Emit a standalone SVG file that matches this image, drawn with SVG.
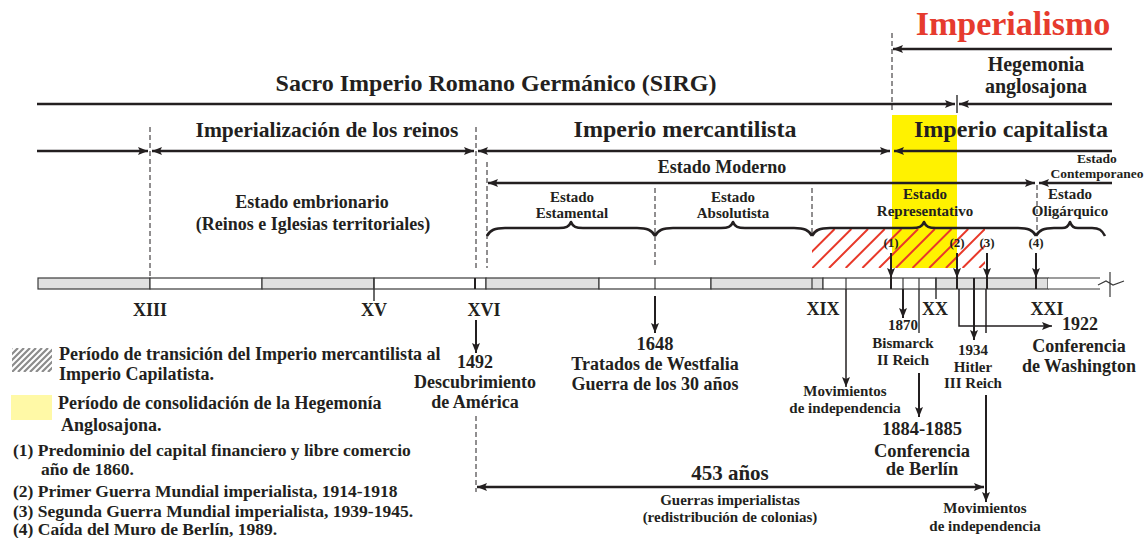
<svg xmlns="http://www.w3.org/2000/svg" width="1147" height="538" viewBox="0 0 1147 538">
<style>
text{font-family:"Liberation Serif","Times New Roman",serif;font-weight:bold;fill:#231f20;text-anchor:middle}
.l{text-anchor:start}
.arr{stroke:#231f20;stroke-width:2.5;fill:none}
.ar2{stroke:#231f20;stroke-width:2;fill:none}
.dash{stroke:#231f20;stroke-width:1;stroke-dasharray:5,3;fill:none}
.tk{stroke:#3a3a3a;stroke-width:1.2;fill:none}
.tkb{stroke:#231f20;stroke-width:2;fill:none}
.brace{stroke:#231f20;stroke-width:2.6;fill:none;stroke-linejoin:round}
.seg{stroke:#3a3a3a;stroke-width:1.2}
.g{fill:#e0e0e0}
.w{fill:#ffffff}
.hat{stroke:#e8392a;stroke-width:2;fill:none}
</style>
<defs>
<marker id="ah" viewBox="0 0 10 8" refX="10" refY="4" markerWidth="10" markerHeight="8" markerUnits="userSpaceOnUse" orient="auto-start-reverse">
<path d="M0,0 L10,4 L0,8 L2,4 z" fill="#231f20"/>
</marker>
<clipPath id="hc"><rect x="812" y="229" width="173" height="39"/></clipPath>
<clipPath id="lc"><rect x="12" y="348" width="40" height="24"/></clipPath>
</defs>
<rect width="1147" height="538" fill="#ffffff"/>

<g id="yellow-band"><rect x="892" y="115" width="65" height="153" fill="#fff200"/></g>
<g id="hatch-band" clip-path="url(#hc)">
<path class="hat" d="M778.9,268 L817.9,229 M795.6,268 L834.6,229 M812.3,268 L851.3,229 M829,268 L868,229 M845.7,268 L884.7,229 M862.4,268 L901.4,229 M879.1,268 L918.1,229 M895.8,268 L934.8,229 M912.5,268 L951.5,229 M929.2,268 L968.2,229 M945.9,268 L984.9,229 M962.6,268 L1001.6,229 M979.3,268 L1018.3,229"/>
</g>

<g id="titles">
<text x="1013" y="35" font-size="34" style="fill:#e63b2e">Imperialismo</text>
<text x="1036" y="71" font-size="20">Hegemonia</text>
<text x="1036" y="93" font-size="20">anglosajona</text>
<text x="496" y="91" font-size="24">Sacro Imperio Romano Germánico (SIRG)</text>
<text x="327" y="137" font-size="21.5">Imperialización de los reinos</text>
<text x="685" y="137" font-size="24">Imperio mercantilista</text>
<text x="1011" y="137" font-size="24">Imperio capitalista</text>
<text x="722" y="173" font-size="18">Estado Moderno</text>
<text x="1097" y="163" font-size="13.5">Estado</text>
<text x="1097" y="178" font-size="13.5">Contemporaneo</text>
</g>

<g id="states">
<text x="312" y="208" font-size="18">Estado embrionario</text>
<text x="313" y="230" font-size="18">(Reinos e Iglesias territoriales)</text>
<text x="572" y="202" font-size="15">Estado</text>
<text x="572" y="218" font-size="15">Estamental</text>
<text x="733" y="202" font-size="15">Estado</text>
<text x="733" y="218" font-size="15">Absolutista</text>
<text x="925" y="199" font-size="15">Estado</text>
<text x="925" y="216" font-size="15">Representativo</text>
<text x="1070" y="199" font-size="15">Estado</text>
<text x="1070" y="216" font-size="15">Oligárquico</text>
<path class="brace" d="M487,236 C490,230 495,228 505,228 L559,228 C566,228 569,227 571,222 C573,227 576,228 583,228 L637,228 C647,228 652,230 655,236"/>
<path class="brace" d="M655,236 C658,230 663,228 673,228 L721,228 C728,228 731,227 733,222 C735,227 738,228 745,228 L794,228 C804,228 809,230 812,236"/>
<path class="brace" d="M812,236 C815,230 820,228 830,228 L912,228 C919,228 922,227 924,222 C926,227 929,228 936,228 L1018,228 C1028,228 1033,230 1036,236"/>
<path class="brace" d="M1036,236 C1039,230 1044,228 1054,228 L1062,228 C1066,228 1068,227 1070,222 C1072,227 1074,228 1078,228 L1092,228 C1099,228 1102,230 1105,236"/>
<text x="891" y="247" font-size="13">(1)</text>
<text x="957" y="247" font-size="13">(2)</text>
<text x="987" y="247" font-size="13">(3)</text>
<text x="1036" y="247" font-size="13">(4)</text>
</g>

<g id="timeline-bar">
<rect class="seg g" x="38" y="278" width="112" height="11"/>
<rect class="seg w" x="150" y="278" width="112" height="11"/>
<rect class="seg g" x="262" y="278" width="112" height="11"/>
<rect class="seg w" x="374" y="278" width="112" height="11"/>
<rect class="seg g" x="486" y="278" width="113" height="11"/>
<rect class="seg w" x="599" y="278" width="112" height="11"/>
<rect class="seg g" x="711" y="278" width="112" height="11"/>
<rect class="seg w" x="823" y="278" width="113" height="11"/>
<rect class="seg g" x="936" y="278" width="112" height="11"/>
<rect x="1048" y="278" width="52" height="11" fill="#ffffff"/>
<path class="tk" d="M1048,278 L1100,278 M1048,289 L1100,289 M1098,285 L1106,281 L1113,285 L1124,281 M1110,272 L1110,297"/>
<path class="tk" d="M655,278 V289 M812,278 V289 M846,278 V289 M903,278 V289 M919,278 V289 M374,278 V289 M936,278 V289"/>
<path class="tkb" d="M475,278 V289 M891,278 V289 M957,278 V289 M974,278 V289 M987,278 V289 M1036,278 V289"/>
<text x="150" y="316" font-size="18">XIII</text>
<text x="374" y="316" font-size="18">XV</text>
<text x="484" y="316" font-size="18">XVI</text>
<text x="823" y="315" font-size="18">XIX</text>
<text x="935" y="315" font-size="18">XX</text>
<text x="1047" y="315" font-size="18">XXI</text>
</g>

<g id="events">
<text x="475" y="368" font-size="18">1492</text>
<text x="475" y="388" font-size="18">Descubrimiento</text>
<text x="475" y="408" font-size="18">de América</text>
<text x="655" y="350" font-size="18.5">1648</text>
<text x="655" y="370" font-size="18">Tratados de Westfalia</text>
<text x="655" y="390" font-size="18">Guerra de los 30 años</text>
<text x="845" y="396" font-size="15">Movimientos</text>
<text x="845" y="413" font-size="15">de independencia</text>
<text x="903" y="330" font-size="15">1870</text>
<text x="903" y="348" font-size="15">Bismarck</text>
<text x="903" y="365" font-size="15">II Reich</text>
<text x="922" y="435" font-size="18.5">1884-1885</text>
<text x="922" y="457" font-size="18.5">Conferencia</text>
<text x="922" y="475" font-size="18.5">de Berlín</text>
<text x="973" y="355" font-size="15">1934</text>
<text x="973" y="372" font-size="15">Hitler</text>
<text x="973" y="388" font-size="15">III Reich</text>
<text x="1080" y="330" font-size="18">1922</text>
<text x="1079" y="352" font-size="18">Conferencia</text>
<text x="1079" y="372" font-size="18">de Washington</text>
<text x="985" y="513" font-size="15">Movimientos</text>
<text x="985" y="531" font-size="15">de independencia</text>
<text x="730" y="480" font-size="21">453 años</text>
<text x="730" y="505" font-size="15">Guerras imperialistas</text>
<text x="730" y="522" font-size="15">(redistribución de colonias)</text>
</g>

<g id="legend">
<g clip-path="url(#lc)"><path stroke="#8c8c8c" stroke-width="2.2" fill="none" d="M-12,372 L12,348 M-6,372 L18,348 M0,372 L24,348 M6,372 L30,348 M12,372 L36,348 M18,372 L42,348 M24,372 L48,348 M30,372 L54,348 M36,372 L60,348 M42,372 L66,348 M48,372 L72,348"/></g>
<text class="l" x="59" y="360" font-size="18">Período de transición del Imperio mercantilista al</text>
<text class="l" x="59" y="380" font-size="18">Imperio Capilatista.</text>
<rect x="11" y="395" width="41" height="25" fill="#fff9a6"/>
<text class="l" x="58" y="409" font-size="18">Período de consolidación de la Hegemonía</text>
<text class="l" x="61" y="431" font-size="18">Anglosajona.</text>
<text class="l" x="13" y="456" font-size="17.5">(1) Predominio del capital financiero y libre comercio</text>
<text class="l" x="41" y="474.5" font-size="17.5">año de 1860.</text>
<text class="l" x="13" y="497" font-size="17.5">(2) Primer Guerra Mundial imperialista, 1914-1918</text>
<text class="l" x="13" y="517" font-size="17.5">(3) Segunda Guerra Mundial imperialista, 1939-1945.</text>
<text class="l" x="13" y="535" font-size="17.5">(4) Caída del Muro de Berlín, 1989.</text>
</g>

<g id="connectors">
<path class="dash" d="M892,33 V113 M150,127 V278 M476,127 V270 M487,162 V268 M655,188 V268 M812,188 V236 M1037,185 V234 M476,416 V492"/>
<path class="arr" d="M1112,49 L893,49" marker-end="url(#ah)"/>
<path class="arr" d="M37,104 L955,104" marker-end="url(#ah)"/>
<path class="tk" d="M957,95 V113" style="stroke-width:1.5"/>
<path class="arr" d="M1112,104 L959,104" marker-end="url(#ah)"/>
<path class="arr" d="M37,151 L148,151" marker-end="url(#ah)"/>
<path class="arr" d="M152,151 L474,151" marker-start="url(#ah)" marker-end="url(#ah)"/>
<path class="arr" d="M478,151 L890,151" marker-start="url(#ah)" marker-end="url(#ah)"/>
<path class="arr" d="M1112,151 L894,151" marker-end="url(#ah)"/>
<path class="arr" d="M488,183 L1035,183" marker-start="url(#ah)" marker-end="url(#ah)"/>
<path class="arr" d="M1112,183 L1039,183" marker-end="url(#ah)"/>
<path class="ar2" d="M891,253 V278" marker-end="url(#ah)"/>
<path class="ar2" d="M957,253 V278" marker-end="url(#ah)"/>
<path class="ar2" d="M987,253 V278" marker-end="url(#ah)"/>
<path class="ar2" d="M1036,253 V278" marker-end="url(#ah)"/>
<path class="tk" d="M374,289 V301 M936,289 V299 M919,289 V333" style="stroke-width:1.5"/>
<path class="ar2" d="M476,320 V353" marker-end="url(#ah)"/>
<path class="ar2" d="M655,296 V333" marker-end="url(#ah)"/>
<path class="ar2" d="M846,289 V387" marker-end="url(#ah)" style="stroke-width:1.5"/>
<path class="ar2" d="M903,289 V318" marker-end="url(#ah)"/>
<path class="ar2" d="M919,373 V417" marker-end="url(#ah)"/>
<path class="ar2" d="M974,289 V340" marker-end="url(#ah)"/>
<path class="ar2" d="M959,289 V326 H1052" marker-end="url(#ah)" style="stroke-width:1.5"/>
<path class="ar2" d="M986,289 V333" style="stroke-width:1.5"/>
<path class="ar2" d="M986,395 V502" marker-end="url(#ah)"/>
<path class="arr" d="M477,487 L984,487" marker-start="url(#ah)" marker-end="url(#ah)"/>
</g>
</svg>
